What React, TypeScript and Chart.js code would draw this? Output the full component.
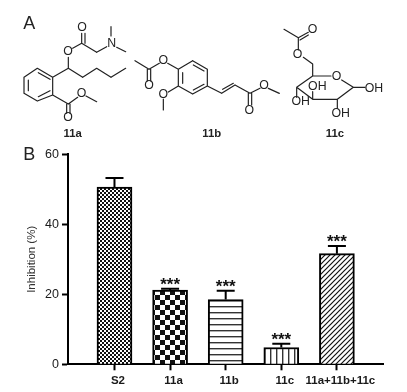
import React, { useEffect, useRef } from "react";
import { Chart, registerables } from "chart.js";

Chart.register(...registerables);

const categories = ["S2", "11a", "11b", "11c", "11a+11b+11c"];
const means = [50.6, 21.2, 18.5, 4.8, 31.6];
const upperErrors = [53.2, 21.6, 21.0, 5.9, 33.8];
const significance = ["", "***", "***", "***", "***"];
const yTicks = [0, 20, 40, 60];
const INK = "#1a1a1a";
const FONT = '"Liberation Sans", Arial, sans-serif';

// Chemical structure illustration, in 3x page units: [x1, y1, x2, y2]
const bonds: number[][] = [
  // 11a
  [112,205,158,232],[158,232,158,285],[158,285,112,303],[112,303,72,280],[72,280,72,232],[72,232,112,205],
  [85,240,85,272],[115,218,150,238],[115,290,150,272],
  [158,232,205,205],[205,205,205,172],[218,145,245,130],[245,130,245,100],[255,130,255,100],[245,130,290,157],
  [290,157,320,140],[333,108,333,80],[350,142,377,155],
  [205,205,248,232],[248,232,290,205],[290,205,333,232],[333,232,377,205],
  [158,285,205,312],[200,312,200,340],[210,312,210,340],[205,312,233,292],[258,288,290,305],
  // 11b
  [405,182,447,208],[442,208,442,243],[452,208,452,243],[447,208,478,190],[503,190,535,208],
  [535,208,578,182],[578,182,622,208],[622,208,622,258],[622,258,578,282],[578,282,535,258],[535,258,535,208],
  [580,195,612,213],[612,253,580,270],[548,218,548,250],
  [535,258,505,276],[490,297,490,330],
  [622,258,665,280],[665,280,705,255],[668,268,700,250],[705,255,750,280],[745,280,745,315],[755,280,755,315],
  [750,280,780,265],[805,265,838,280],
  // 11c
  [852,88,895,113],[895,113,925,97],[900,120,925,105],[895,113,895,150],[910,172,938,192],[938,192,938,228],
  [938,228,993,228],[1025,240,1060,262],[1060,262,1095,262],[1060,262,1012,298],[1012,298,1012,325],
  [1012,298,938,298],[938,298,938,275],[938,298,890,262],[890,262,890,292],[890,262,938,228],
];
// [text, x, y] in the same units
const atoms: [string, number, number][] = [
  ["O",204,155],["O",246,83],["N",335,132],["O",245,281],["O",204,354],
  ["O",447,258],["O",490,182],["O",490,283],["O",748,332],["O",792,257],
  ["O",938,90],["O",893,165],["O",1010,230],["OH",1122,265],["OH",1022,340],["OH",952,260],["OH",902,305],
];
const compoundLabels: [string, number, number][] = [["11a",218,403],["11b",635,403],["11c",1005,403]];

function pattern(w: number, h: number, draw: (c: CanvasRenderingContext2D) => void) {
  const cv = document.createElement("canvas");
  cv.width = w; cv.height = h;
  const c = cv.getContext("2d")!;
  c.fillStyle = "#fff"; c.fillRect(0, 0, w, h);
  c.fillStyle = "#111"; c.strokeStyle = "#111";
  draw(c);
  return c.createPattern(cv, "repeat")!;
}

function makePatterns() {
  const checker = (s: number) => pattern(s * 2, s * 2, (c) => {
    c.fillRect(0, 0, s, s); c.fillRect(s, s, s, s);
  });
  return [
    checker(2),
    checker(5),
    pattern(4, 6, (c) => { c.fillStyle = "#333"; c.fillRect(0, 0, 4, 1.4); }),
    pattern(6, 4, (c) => { c.fillStyle = "#333"; c.fillRect(0, 0, 1.4, 4); }),
    pattern(5, 5, (c) => {
      c.lineWidth = 1.2;
      c.beginPath();
      c.moveTo(-1, 6); c.lineTo(6, -1);
      c.moveTo(-4, 4); c.lineTo(4, -4);
      c.moveTo(1, 9); c.lineTo(9, 1);
      c.stroke();
    }),
  ];
}

const overlay = {
  id: "overlay",
  afterDatasetsDraw(chart: any) {
    const { ctx, scales } = chart;
    const x = scales.x, y = scales.y;
    ctx.save();
    ctx.strokeStyle = "#000"; ctx.lineWidth = 2; ctx.fillStyle = "#111";
    means.forEach((m, i) => {
      const px = x.getPixelForValue(i);
      const top = y.getPixelForValue(upperErrors[i]);
      ctx.beginPath();
      ctx.moveTo(px, y.getPixelForValue(m)); ctx.lineTo(px, top);
      ctx.moveTo(px - 9, top); ctx.lineTo(px + 9, top);
      ctx.stroke();
      if (significance[i]) {
        ctx.font = `bold 17px ${FONT}`;
        ctx.textAlign = "center"; ctx.textBaseline = "alphabetic";
        ctx.fillText(significance[i], px, top + 1);
      }
    });
    // Structures
    ctx.scale(1 / 3, 1 / 3);
    ctx.strokeStyle = "#222"; ctx.lineWidth = 3.6; ctx.lineCap = "round";
    ctx.beginPath();
    bonds.forEach(([a, b, c, d]) => { ctx.moveTo(a, b); ctx.lineTo(c, d); });
    ctx.stroke();
    ctx.fillStyle = "#222"; ctx.textAlign = "center"; ctx.textBaseline = "middle";
    ctx.font = `37px ${FONT}`;
    atoms.forEach(([t, a, b]) => ctx.fillText(t, a, b));
    ctx.font = `bold 34px ${FONT}`;
    compoundLabels.forEach(([t, a, b]) => ctx.fillText(t, a, b));
    ctx.font = `54px ${FONT}`;
    ctx.fillText("A", 88, 72);
    ctx.fillText("B", 88, 465);
    ctx.restore();
  },
};

export default function App() {
  const ref = useRef<HTMLCanvasElement>(null);
  useEffect(() => {
    const fills = makePatterns();
    const chart = new Chart(ref.current!, {
      type: "bar",
      data: {
        datasets: [{
          data: means.map((v, i) => ({ x: i, y: v })),
          backgroundColor: fills,
          borderColor: "#000",
          borderWidth: 2,
          barThickness: 35,
        }],
      },
      plugins: [overlay],
      options: {
        responsive: false,
        animation: false,
        layout: { padding: { top: 154.3, right: 24, left: 0, bottom: 0 } },
        plugins: { legend: { display: false }, tooltip: { enabled: false } },
        scales: {
          x: {
            type: "linear",
            offset: false,
            min: -0.836,
            max: 4.829,
            afterFit: (s: any) => { s.height = 27.7; },
            afterBuildTicks: (s: any) => { s.ticks = categories.map((_, i) => ({ value: i })); },
            grid: { offset: false, drawOnChartArea: false, tickWidth: 2, tickLength: 6, tickColor: "#000" },
            border: { width: 2, color: "#000" },
            ticks: {
              autoSkip: false, maxRotation: 0, padding: 4, labelOffset: 3.5, color: INK,
              font: { family: FONT, size: 11.5, weight: "bold" },
              callback: (v: any) => categories[v],
            },
          },
          y: {
            min: 0,
            max: 60,
            afterFit: (s: any) => { s.width = 68; },
            afterBuildTicks: (s: any) => { s.ticks = yTicks.map((value) => ({ value })); },
            grid: { drawOnChartArea: false, tickWidth: 2, tickLength: 6, tickColor: "#000" },
            border: { width: 2, color: "#000" },
            title: {
              display: true, text: "Inhibition (%)", color: "#333",
              font: { family: FONT, size: 11.5 }, padding: { top: 25, bottom: 0 },
            },
            ticks: { padding: 3, color: INK, font: { family: FONT, size: 12.5 } },
          },
        },
      },
    } as any);
    return () => chart.destroy();
  }, []);
  return (
    <canvas
      ref={ref}
      width={407}
      height={392}
      style={{ position: "absolute", left: 0, top: 0, width: 407, height: 392, background: "#fff" }}
    />
  );
}
